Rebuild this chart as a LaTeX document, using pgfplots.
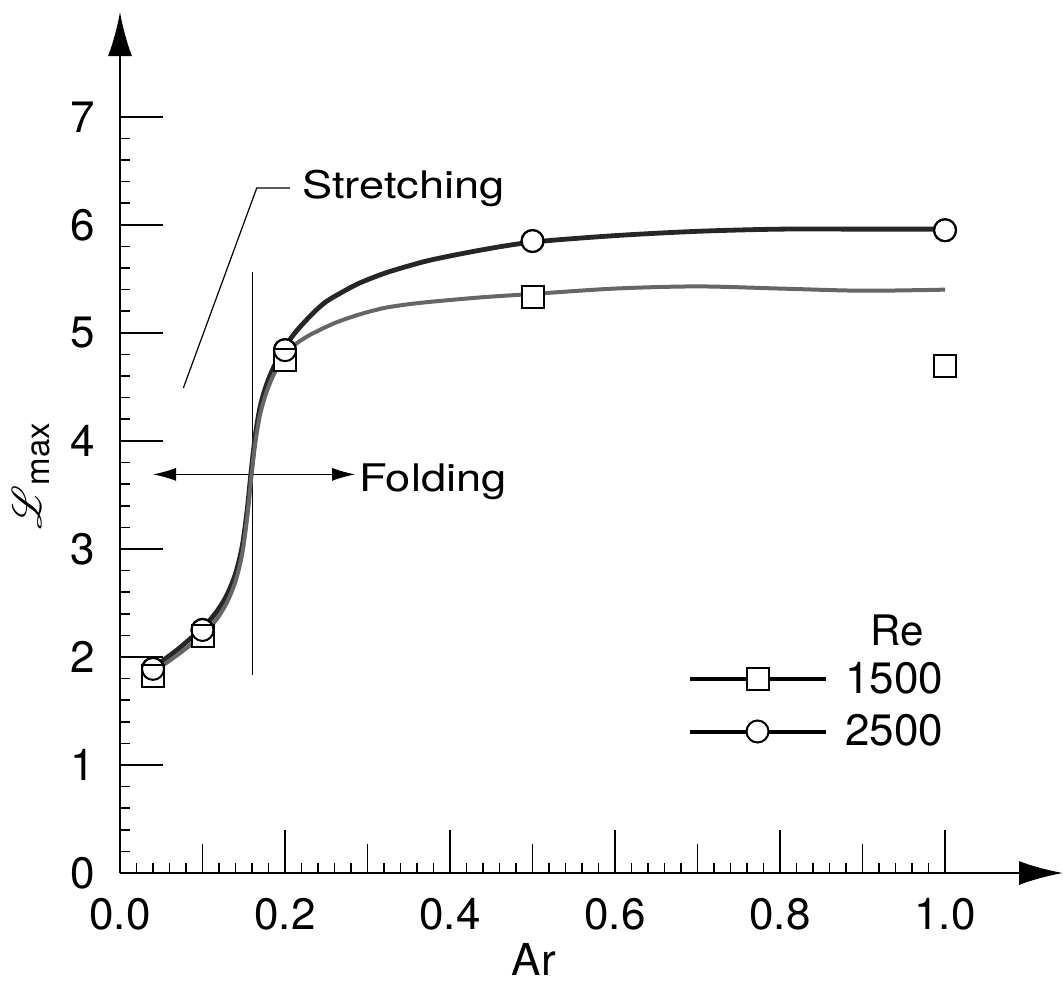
\documentclass[border=0pt]{standalone}
\usepackage{pgfplots}
\pgfplotsset{compat=1.18}
\usepackage{pgfplotstable}
\usepackage{fontspec}
\setmainfont{TeX Gyre Heros}
\newfontfamily\annfont{TeX Gyre Heros}[FakeStretch=1.19]
\usepackage{mathrsfs}
\usetikzlibrary{arrows.meta}
\newcommand{\lf}{\fontsize{22}{26}\selectfont}
\newcommand{\af}{\annfont\fontsize{19}{23}\selectfont}

\pgfplotstableread{
x y
0.04 1.86
0.07 2.02
0.100 2.20
0.110 2.28
0.120 2.38
0.130 2.51
0.140 2.70
0.148 2.95
0.154 3.28
0.159 3.65
0.164 3.98
0.170 4.25
0.178 4.46
0.188 4.64
0.200 4.80
0.212 4.89
0.230 4.98
0.260 5.09
0.290 5.17
0.320 5.23
0.350 5.265
0.380 5.29
0.440 5.33
0.500 5.36
0.60 5.41
0.70 5.43
0.80 5.41
0.90 5.39
1.00 5.40
}\curveA

\pgfplotstableread{
x y
0.04 1.90
0.07 2.07
0.100 2.27
0.110 2.35
0.120 2.45
0.130 2.58
0.140 2.77
0.148 3.02
0.154 3.35
0.159 3.72
0.164 4.05
0.170 4.32
0.178 4.53
0.188 4.71
0.200 4.87
0.210 4.98
0.220 5.07
0.235 5.19
0.250 5.29
0.270 5.38
0.290 5.46
0.320 5.55
0.350 5.62
0.380 5.68
0.440 5.77
0.500 5.84
0.60 5.90
0.70 5.94
0.80 5.96
0.90 5.96
1.00 5.96
}\curveB

\pgfplotstableread{
x y
0.04 1.82
0.10 2.19
0.20 4.75
0.50 5.33
1.00 4.69
}\ptsA

\pgfplotstableread{
x y
0.04 1.89
0.10 2.25
0.20 4.84
0.50 5.85
1.00 5.95
}\ptsB

\begin{document}
\begin{tikzpicture}
\useasboundingbox (-60pt,-57pt) rectangle (471.5pt,436.5pt);
\begin{axis}[
  scale only axis, width=471.5pt, height=430.5pt,
  xmin=0, xmax=1.143, ymin=0, ymax=7.97,
  axis lines=left,
  axis line style={line width=1pt, -{Latex[length=22pt,width=12pt]}},
  tick align=inside,
  xtick={0,0.2,0.4,0.6,0.8,1.0},
  minor xtick={0.02,0.04,...,0.99},
  extra x ticks={0.1,0.3,0.5,0.7,0.9},
  extra x tick labels={},
  extra x tick style={major tick length=14.5pt},
  ytick={0,1,2,3,4,5,6,7},
  minor ytick={0.2,0.4,...,6.9},
  major tick length=21.5pt, minor tick length=5pt,
  tick style={black, line width=0.8pt},
  tick label style={font=\lf},
  /pgf/number format/assume math mode=true,
  xticklabel style={inner sep=0pt, anchor=north, yshift=-12.5pt,
     /pgf/number format/.cd, fixed, fixed zerofill, precision=1},
  yticklabel style={inner sep=0pt, anchor=east, xshift=-12.5pt},
  xlabel={Ar},
  xlabel style={font=\lf, at={(axis description cs:0.439,0)}, anchor=north, inner sep=0pt, yshift=-35pt},
  ylabel={{\fontsize{22}{26}\selectfont$\mathscr{L}$}\raisebox{-4pt}{\fontsize{16.5}{20}\selectfont max}},
  ylabel style={at={(axis description cs:-0.0944,0.461)}, anchor=center, inner sep=0pt},
  legend image code/.code={
    \draw[#1] (0pt,0pt) -- (68pt,0pt);
    \draw[#1, only marks] plot coordinates {(34pt,0pt)};
  },
  legend style={at={(axis cs:0.6874,1.955)}, anchor=north west, draw=none, fill=none,
     font=\lf, inner sep=0pt, row sep=9pt,
     nodes={inner sep=0pt},
     /tikz/every odd column/.append style={column sep=9pt}},
]
% annotations
\addplot[forget plot, black, line width=0.6pt] coordinates {(0.0768,4.49) (0.1657,6.34) (0.206,6.34)};
\addplot[forget plot, black, line width=0.5pt] coordinates {(0.161,1.83) (0.161,5.56)};
\addplot[forget plot, black, line width=0.6pt, {Latex[length=11.5pt,width=6.5pt]}-{Latex[length=11.5pt,width=6.5pt]}] coordinates {(0.04,3.69) (0.285,3.69)};
\node[anchor=base west, inner sep=0pt, font=\af] at (axis cs:0.2205,6.247) {Stretching};
\node[anchor=base west, inner sep=0pt, font=\af] at (axis cs:0.2895,3.53) {Folding};
\node[anchor=base, inner sep=0pt, font=\fontsize{21}{25}\selectfont] at (axis cs:0.942,2.11) {Re};
% curves
\addplot[forget plot, black!85, line width=2.4pt, smooth, tension=0.5, no markers] table {\curveB};
\addplot[forget plot, black!60, line width=2pt, smooth, tension=0.5, no markers] table {\curveA};
% markers
\addplot[forget plot, only marks, mark=*, mark size=5.5pt, mark options={draw=black, fill=white, line width=1pt}] table {\ptsB};
\addplot[forget plot, only marks, mark=square*, mark size=5.5pt, mark options={draw=black, fill=white, line width=1pt}] table {\ptsA};
\addplot[forget plot, only marks, mark=o, mark size=5.5pt, mark options={draw=black, line width=1pt}] table {\ptsB};
% legend
\addlegendimage{black, line width=2pt, mark=square*, mark size=5.5pt, mark options={fill=white, line width=1pt}}
\addlegendentry{1500}
\addlegendimage{black, line width=2pt, mark=*, mark size=5.5pt, mark options={fill=white, line width=1pt}}
\addlegendentry{2500}
\end{axis}
\end{tikzpicture}
\end{document}
